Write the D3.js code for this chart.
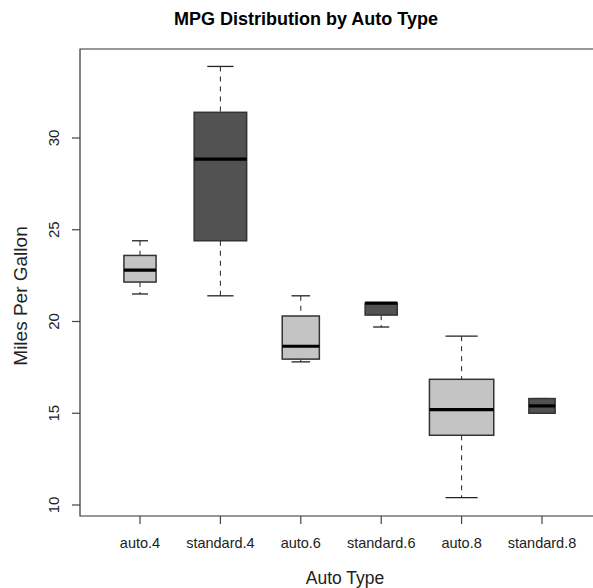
<!DOCTYPE html>
<html>
<head>
<meta charset="utf-8">
<script src="https://cdn.jsdelivr.net/npm/d3@7"></script>
<style>
  body { margin: 0; background: #fff; }
  svg { display: block; font-family: "Liberation Sans", Arial, sans-serif; }
</style>
</head>
<body>
<svg width="593" height="588"></svg>
<script>
// boxplot stats
const groups  = ["auto.4", "standard.4", "auto.6", "standard.6", "auto.8", "standard.8"]
const lowWhisk  = [21.5, 21.4, 17.8, 19.7, 10.4, 15.0]
const lowerQ    = [22.15, 24.4, 17.95, 20.35, 13.8, 15.0]
const medians   = [22.8, 28.85, 18.65, 21.0, 15.2, 15.4]
const upperQ    = [23.6, 31.4, 20.3, 21.0, 16.85, 15.8]
const highWhisk = [24.4, 33.9, 21.4, 21.0, 19.2, 15.8]
const counts    = [3, 8, 4, 3, 12, 2]
const yTicks    = [10, 15, 20, 25, 30]
const fills     = ["#c4c4c4", "#525252"]

const svg = d3.select("svg")

const x = d3.scalePoint().domain(groups).range([140, 542])
const y = d3.scaleLinear().domain([10, 30]).range([505, 138])
const w = d3.scaleSqrt().domain([0, d3.max(counts)]).range([0, x.step() * 0.8])

const data = groups.map((g, i) => ({
    g, lo: lowWhisk[i], q1: lowerQ[i], med: medians[i], q3: upperQ[i], hi: highWhisk[i], n: counts[i], i
}))

// frame
svg.append("path")
    .attr("d", "M600,49 H80 V516 H600")
    .attr("fill", "none")
    .attr("stroke", "#333")
    .attr("stroke-width", 1.2)

// y axis
const yAxis = svg.append("g")
yAxis.selectAll("line").data(yTicks).enter().append("line")
    .attr("x1", 72).attr("x2", 80)
    .attr("y1", d => y(d)).attr("y2", d => y(d))
    .attr("stroke", "#444").attr("stroke-width", 1.2)
yAxis.selectAll("text").data(yTicks).enter().append("text")
    .attr("transform", d => "translate(59," + y(d) + ") rotate(-90)")
    .attr("text-anchor", "middle")
    .attr("font-size", 15)
    .attr("fill", "#222")
    .text(d => d)

// x axis
const xAxis = svg.append("g")
xAxis.selectAll("line").data(groups).enter().append("line")
    .attr("x1", d => x(d)).attr("x2", d => x(d))
    .attr("y1", 516).attr("y2", 524)
    .attr("stroke", "#444").attr("stroke-width", 1.2)
xAxis.selectAll("text").data(groups).enter().append("text")
    .attr("x", d => x(d)).attr("y", 548)
    .attr("text-anchor", "middle")
    .attr("font-size", 14.5)
    .attr("fill", "#222")
    .text(d => d)

// titles
svg.append("text")
    .attr("x", 306).attr("y", 25)
    .attr("text-anchor", "middle")
    .attr("font-size", 18).attr("font-weight", "bold")
    .text("MPG Distribution by Auto Type")

svg.append("text")
    .attr("x", 345).attr("y", 584)
    .attr("text-anchor", "middle")
    .attr("font-size", 17.5)
    .attr("fill", "#222")
    .text("Auto Type")

svg.append("text")
    .attr("transform", "translate(27,296) rotate(-90)")
    .attr("text-anchor", "middle")
    .attr("font-size", 19)
    .attr("fill", "#222")
    .text("Miles Per Gallon")

// boxes
const box = svg.append("g").selectAll("g").data(data).enter().append("g")

box.append("line")
    .attr("x1", d => x(d.g)).attr("x2", d => x(d.g))
    .attr("y1", d => y(d.hi)).attr("y2", d => y(d.q3))
    .attr("stroke", "#222").attr("stroke-dasharray", "5,5")
box.append("line")
    .attr("x1", d => x(d.g)).attr("x2", d => x(d.g))
    .attr("y1", d => y(d.q1)).attr("y2", d => y(d.lo))
    .attr("stroke", "#222").attr("stroke-dasharray", "5,5")

box.selectAll("line.cap")
    .data(d => [d.lo, d.hi].map(v => ({v, d})))
    .enter().append("line")
    .attr("class", "cap")
    .attr("x1", e => x(e.d.g) - w(e.d.n) / 4).attr("x2", e => x(e.d.g) + w(e.d.n) / 4)
    .attr("y1", e => y(e.v)).attr("y2", e => y(e.v))
    .attr("stroke", "#222").attr("stroke-width", 1.3)

box.append("rect")
    .attr("x", d => x(d.g) - w(d.n) / 2)
    .attr("width", d => w(d.n))
    .attr("y", d => y(d.q3))
    .attr("height", d => y(d.q1) - y(d.q3))
    .attr("fill", d => fills[d.i % 2])
    .attr("stroke", "#333").attr("stroke-width", 1.5)

box.append("line")
    .attr("x1", d => x(d.g) - w(d.n) / 2).attr("x2", d => x(d.g) + w(d.n) / 2)
    .attr("y1", d => y(d.med)).attr("y2", d => y(d.med))
    .attr("stroke", "#000").attr("stroke-width", 3.2)
</script>
</body>
</html>
